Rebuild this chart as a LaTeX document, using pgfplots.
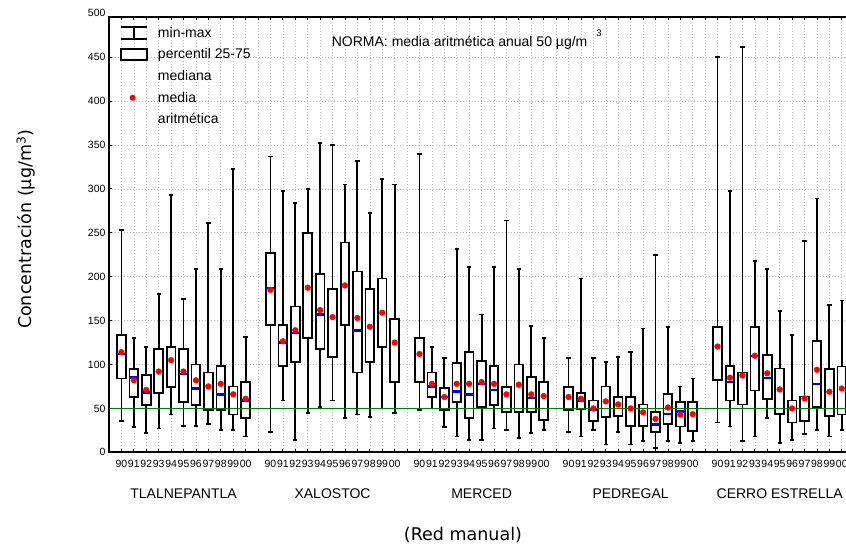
\documentclass[border=0pt]{standalone}
\usepackage{fontspec}
\setmainfont{Liberation Sans}
\newfontfamily\dejavu{DejaVu Sans}
\usepackage{pgfplots}
\pgfplotsset{compat=1.18}
\usepgfplotslibrary{statistics}

\pgfplotsset{
  boxplot/draw direction=y,
  boxplot/box extend=0.7,
  boxplot/whisker extend=0.35,
  boxplot/every box/.style={draw=black, fill=white, line width=1.8pt},
  boxplot/every whisker/.style={black, line width=1.8pt},
  boxplot/every median/.style={blue, line width=2.6pt},
}
% one box: position, min, p25, median, p75, max
\newcommand{\bx}[6]{\addplot[black, solid, line width=1.8pt, forget plot,
  boxplot prepared={draw position=#1, lower whisker=#2, lower quartile=#3,
  median=#4, upper quartile=#5, upper whisker=#6}] coordinates {};}
% same, median not drawn
\newcommand{\bxh}[6]{\addplot[black, solid, line width=1.8pt, forget plot,
  boxplot/every median/.style={draw=none},
  boxplot prepared={draw position=#1, lower whisker=#2, lower quartile=#3,
  median=#4, upper quartile=#5, upper whisker=#6}] coordinates {};}

\newcommand{\ticksize}{\fontsize{10.5}{12}\selectfont}

\begin{document}
\begin{tikzpicture}
\begin{axis}[
  name=ax, scale only axis,
  width=745.2pt, height=435.5pt,
  xmin=0, xmax=60, ymin=0, ymax=496,
  xtick={1,...,59},
  xticklabels={90,91,92,93,94,95,96,97,98,99,00,{},
               90,91,92,93,94,95,96,97,98,99,00,{},
               90,91,92,93,94,95,96,97,98,99,00,{},
               90,91,92,93,94,95,96,97,98,99,00,{},
               90,91,92,93,94,95,96,97,98,99,00},
  ytick={0,50,...,450},
  grid=major,
  grid style={gray!55, line width=0.6pt, dash pattern=on 1.3pt off 1.7pt},
  tick align=inside, major tick length=3pt,
  tick style={black, line width=0.8pt},
  axis line style={black, line width=1.8pt},
  ticklabel style={font=\ticksize},
  /pgf/number format/assume math mode=true,
  xticklabel style={yshift=-4pt},
  clip=false,
  xlabel={\dejavu\fontsize{17.5}{20}\selectfont (Red manual)},
  xlabel style={at={(axis description cs:0.475,-0.19)}, anchor=center},
  ylabel={\dejavu\fontsize{17.5}{20}\selectfont Concentración (µg/m\textsuperscript{3})},
  ylabel style={at={(axis description cs:-0.1114,0.512)}, anchor=center, rotate=0},
  legend style={draw=none, fill=none, at={(rel axis cs:0,1)}, anchor=north west,
    xshift=8pt, yshift=-6pt, font=\fontsize{14}{17}\selectfont,
    row sep=6pt, cells={anchor=west},
    /tikz/every odd column/.append style={column sep=8pt}},
]
% legend
\addlegendimage{legend image code/.code={
  \path[draw=none, fill=none] (0pt,-7pt) rectangle (27pt,7pt);
  \draw[black, line width=1.8pt] (0.5pt,6pt) -- (26.5pt,6pt) (0.5pt,-6pt) -- (26.5pt,-6pt)
     (13.5pt,-6pt) -- (13.5pt,6pt);}}
\addlegendentry{min-max}
\addlegendimage{legend image code/.code={
  \path[draw=none, fill=none] (0pt,-7pt) rectangle (27pt,7pt);
  \draw[black, line width=1.8pt, fill=white] (0.7pt,-5.5pt) rectangle (26.3pt,5.5pt);}}
\addlegendentry{percentil 25-75}
\addlegendimage{legend image code/.code={\path[draw=none, fill=none] (0pt,-7pt) rectangle (27pt,7pt);}}
\addlegendentry{mediana}
\addlegendimage{legend image code/.code={
  \path[draw=none, fill=none] (0pt,-7pt) rectangle (27pt,7pt);
  \fill[red, draw=none] (12pt,0pt) circle (3pt);}}
\addlegendentry{media}
\addlegendimage{legend image code/.code={\path[draw=none, fill=none] (0pt,-7pt) rectangle (27pt,7pt);}}
\addlegendentry{aritmética}

% TLALNEPANTLA
\bx{1}{36}{84}{112}{134}{253}
\bx{2}{29}{63}{85}{95}{130}
\bx{3}{22}{54}{68}{88}{120}
\bxh{4}{27}{68}{92}{118}{180}
\bxh{5}{43}{74}{105}{120}{293}
\bx{6}{30}{57}{89}{118}{175}
\bx{7}{30}{54}{73}{100}{209}
\bxh{8}{32}{48}{75}{91}{261}
\bx{9}{25}{48}{66}{98}{209}
\bxh{10}{25}{43}{66}{75}{323}
\bx{11}{18}{39}{59}{80}{131}
% XALOSTOC
\bx{13}{23}{145}{187}{227}{337}
\bx{14}{59}{98}{125}{145}{298}
\bx{15}{14}{103}{136}{166}{284}
\bxh{16}{45}{130}{187}{250}{300}
\bx{17}{52}{118}{157}{203}{352}
\bxh{18}{59}{109}{154}{186}{350}
\bxh{19}{39}{145}{190}{239}{305}
\bx{20}{43}{91}{139}{206}{332}
\bxh{21}{40}{103}{143}{186}{273}
\bxh{22}{50}{120}{159}{198}{311}
\bxh{23}{45}{80}{125}{152}{305}
% MERCED
\bxh{25}{48}{80}{112}{130}{340}
\bx{26}{50}{63}{75}{91}{120}
\bx{27}{29}{48}{63}{73}{107}
\bx{28}{18}{57}{69}{102}{232}
\bx{29}{14}{39}{66}{114}{211}
\bx{30}{14}{52}{78}{104}{157}
\bx{31}{27}{54}{71}{98}{211}
\bxh{32}{25}{46}{66}{74.5}{264}
\bxh{33}{16}{46}{77}{100}{209}
\bx{34}{22}{45.5}{62}{86}{144}
\bxh{35}{25}{37}{64}{80}{130}
% PEDREGAL
\bxh{37}{23}{48}{63}{74.5}{107}
\bx{38}{18}{49.5}{59}{68}{198}
\bx{39}{25}{36}{48}{59}{107}
\bxh{40}{9}{40.5}{58}{75}{103}
\bxh{41}{23}{41}{54.5}{63}{109}
\bxh{42}{9}{30}{50}{63}{114}
\bxh{43}{13}{30}{45.5}{54.5}{141}
\bx{44}{5}{23}{32}{45.5}{225}
\bx{45}{13}{32.5}{43.5}{66}{143}
\bx{46}{11}{29.5}{46.6}{57}{75}
\bxh{47}{13}{24.5}{43.5}{57}{84}
% CERRO ESTRELLA
\bxh{49}{34}{82}{120}{143}{450}
\bx{50}{29.5}{59}{80}{98}{298}
\bxh{51}{13}{54.5}{87.5}{91}{462}
\bx{52}{18}{70.5}{109.5}{143}{218}
\bx{53}{39}{61}{84.5}{111}{209}
\bxh{54}{11}{43.5}{71.6}{95.4}{161}
\bxh{55}{14}{34}{50}{59}{134}
\bxh{56}{20.5}{36}{61}{63.6}{241}
\bx{57}{25}{52}{77.6}{127}{289}
\bxh{58}{18}{41}{69}{95}{168}
\bxh{59}{25}{43}{72.7}{97.7}{173}

% annual standard
\addplot[green!50!black, line width=1.6pt, forget plot] coordinates {(0,50) (60,50)};

% arithmetic means
\addplot[only marks, mark=*, mark size=2.9pt, red, forget plot] coordinates {
 (1,114) (2,82) (3,71) (4,92) (5,105) (6,92) (7,82) (8,75) (9,78) (10,66) (11,61)
 (13,185) (14,126.5) (15,139) (16,187.5) (17,162) (18,154) (19,190) (20,153) (21,143) (22,159) (23,125)
 (25,112) (26,78) (27,63) (28,78) (29,78) (30,80) (31,78) (32,66) (33,77) (34,66) (35,64)
 (37,63) (38,61) (39,50) (40,58) (41,54.5) (42,50) (43,45.5) (44,38) (45,51) (46,43) (47,43.5)
 (49,120.5) (50,85) (51,87.5) (52,110) (53,90) (54,71.6) (55,50) (56,61.4) (57,94) (58,69) (59,72.7)
};

% station names
\begin{scope}[every node/.style={font=\fontsize{14}{16}\selectfont, anchor=center, yshift=-41.7pt}]
\node at (axis cs:6,0) {TLALNEPANTLA};
\node at (axis cs:18,0) {XALOSTOC};
\node at (axis cs:30,0) {MERCED};
\node at (axis cs:42,0) {PEDREGAL};
\node at (axis cs:54,0) {CERRO ESTRELLA};
\end{scope}
\node[anchor=east, font=\ticksize] at (axis cs:0,500) {500};
\node[anchor=base west, inner sep=0pt, font=\fontsize{14}{16}\selectfont] at (axis cs:17.93,462)
  {NORMA: media aritmética anual 50 µg/m\hspace{9pt}\raisebox{10pt}{\fontsize{9.5}{10}\selectfont 3}};
\end{axis}
\pgfresetboundingbox
\path[use as bounding box] ([shift={(-109pt,-97.7pt)}]ax.south west) rectangle ([shift={(737pt,452.3pt)}]ax.south west);
\end{tikzpicture}
\end{document}
